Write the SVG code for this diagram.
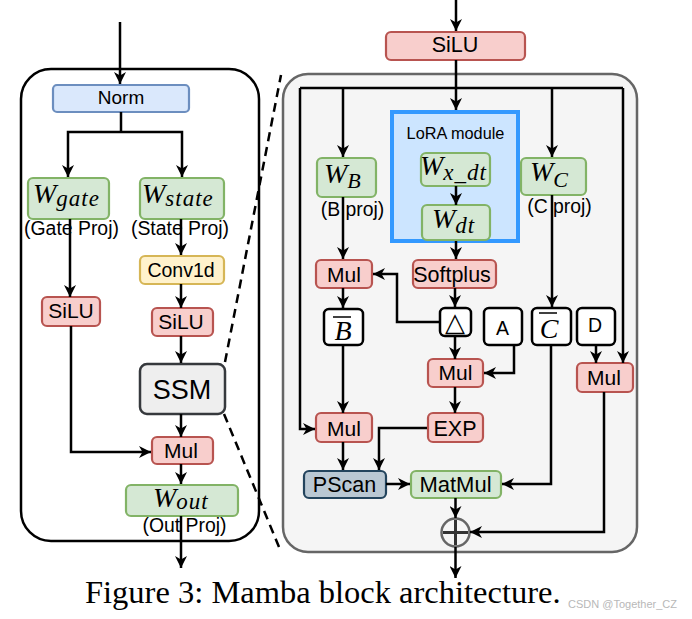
<svg xmlns="http://www.w3.org/2000/svg" width="692" height="619" viewBox="0 0 692 619">
<defs>
<marker id="ah" viewBox="0 0 12 12" refX="12" refY="6" markerWidth="12" markerHeight="12" markerUnits="userSpaceOnUse" orient="auto">
<path d="M0,0 L12,6 L0,12 L3.5,6 z" fill="#000"/>
</marker>
<style>
.c{fill:none;stroke:#000;stroke-width:2.5;marker-end:url(#ah)}
.cn{fill:none;stroke:#000;stroke-width:2.5}
.dash{fill:none;stroke:#000;stroke-width:2.5;stroke-dasharray:9 6}
.red{fill:#f8cecc;stroke:#b85450;stroke-width:2.2}
.grn{fill:#d5e8d4;stroke:#82b366;stroke-width:2.2}
.blu{fill:#dae8fc;stroke:#6c8ebf;stroke-width:2.2}
.yel{fill:#fff2cc;stroke:#d6b656;stroke-width:2.2}
.gry{fill:#eeeeee;stroke:#36393d;stroke-width:2.5}
.psc{fill:#bac8d3;stroke:#23445d;stroke-width:2.2}
.wht{fill:#ffffff;stroke:#000;stroke-width:2.5}
.t{font-family:"Liberation Sans",Arial,sans-serif;fill:#000;text-anchor:middle}
.mw{font-family:"Liberation Serif","Times New Roman",serif;font-style:italic;font-size:28px;fill:#000}
.ms{font-size:23px;letter-spacing:1px}
</style>
</defs>

<g id="left-panel"><rect x="21" y="69" width="238" height="472" rx="30" fill="#fff" stroke="#000" stroke-width="2.5"/></g>
<g id="right-panel"><rect x="283" y="74" width="354" height="478" rx="25" fill="#f5f5f5" stroke="#666" stroke-width="2.5"/></g>

<g id="norm"><rect class="blu" x="53" y="85" width="136" height="27" rx="4"/><text class="t" x="121" y="104" font-size="19">Norm</text></g>
<g id="w-gate"><rect class="grn" x="28" y="178" width="81" height="41" rx="5"/><text class="mw" x="33" y="203">W<tspan class="ms" dy="3">gate</tspan></text><text class="t" x="71.5" y="235" font-size="19.4">(Gate Proj)</text></g>
<g id="w-state"><rect class="grn" x="140" y="178" width="84" height="41" rx="5"/><text class="mw" x="142" y="203">W<tspan class="ms" dy="3">state</tspan></text><text class="t" x="180" y="235" font-size="19.4">(State Proj)</text></g>
<g id="conv1d"><rect class="yel" x="140" y="256" width="84" height="28" rx="5"/><text class="t" x="181" y="277" font-size="19.5">Conv1d</text></g>
<g id="silu-gate"><rect class="red" x="42" y="297" width="58" height="29" rx="5"/><text class="t" x="71" y="318" font-size="21">SiLU</text></g>
<g id="silu-state"><rect class="red" x="152" y="308" width="61" height="28" rx="5"/><text class="t" x="181" y="329" font-size="21">SiLU</text></g>
<g id="ssm"><rect class="gry" x="140" y="364" width="85" height="50" rx="7"/><text class="t" x="182" y="399" font-size="27">SSM</text></g>
<g id="mul-out"><rect class="red" x="152" y="437" width="61" height="27" rx="5"/><text class="t" x="181" y="458" font-size="21">Mul</text></g>
<g id="w-out"><rect class="grn" x="126" y="485" width="112" height="31" rx="5"/><text class="mw" x="153" y="506.5">W<tspan class="ms" dy="2.5">out</tspan></text><text class="t" x="184.5" y="532" font-size="19.4">(Out Proj)</text></g>

<g id="silu-top"><rect class="red" x="386" y="32" width="139" height="28" rx="5"/><text class="t" x="455" y="52" font-size="21.5">SiLU</text></g>
<g id="lora"><rect x="392" y="112" width="126" height="129" fill="#cce5ff" stroke="#3399ff" stroke-width="4"/><text class="t" x="455.5" y="139" font-size="16.3">LoRA module</text></g>
<g id="w-x-dt"><rect class="grn" x="421" y="153" width="69" height="33" rx="5"/><text class="mw" x="420" y="175">W<tspan class="ms" dy="5">x_dt</tspan></text></g>
<g id="w-dt"><rect class="grn" x="422" y="205" width="68" height="35" rx="5"/><text class="mw" x="432" y="228">W<tspan class="ms" dy="5">dt</tspan></text></g>
<g id="w-b"><rect class="grn" x="317" y="158" width="59" height="39" rx="5"/><text class="mw" x="324" y="183" font-size="27">W<tspan font-size="22" dy="5">B</tspan></text><text class="t" x="352.5" y="216" font-size="19.4">(B proj)</text></g>
<g id="w-c"><rect class="grn" x="521" y="158" width="65" height="37" rx="5"/><text class="mw" x="530" y="181" font-size="26">W<tspan font-size="22" dy="6">C</tspan></text><text class="t" x="559.5" y="213" font-size="19.4">(C proj)</text></g>
<g id="mul-b"><rect class="red" x="316" y="260" width="56" height="28" rx="5"/><text class="t" x="344" y="281.5" font-size="21">Mul</text></g>
<g id="softplus"><rect class="red" x="413" y="260" width="83" height="28" rx="5"/><text class="t" x="452" y="281.5" font-size="21.5">Softplus</text></g>
<g id="b-bar"><rect class="wht" x="324" y="309" width="39" height="36" rx="5"/><text class="mw" x="343" y="340" font-size="23" text-anchor="middle">B</text><line x1="333" y1="317" x2="351" y2="317" stroke="#000" stroke-width="1.5"/></g>
<g id="delta"><rect class="wht" x="440" y="308" width="31" height="28" rx="5"/><text x="455" y="331" font-family="DejaVu Sans,sans-serif" font-size="26" text-anchor="middle">△</text></g>
<g id="a"><rect class="wht" x="484" y="308" width="38" height="37" rx="5"/><text class="t" x="502.5" y="335" font-size="19.5">A</text></g>
<g id="c-bar"><rect class="wht" x="532" y="308" width="39" height="37" rx="5"/><text class="mw" x="549" y="338" font-size="23" text-anchor="middle">C</text><line x1="539" y1="313" x2="557" y2="313" stroke="#000" stroke-width="1.5"/></g>
<g id="d"><rect class="wht" x="577" y="308" width="38" height="37" rx="5"/><text class="t" x="595" y="332" font-size="19.5">D</text></g>
<g id="mul-dt"><rect class="red" x="428" y="359" width="55" height="28" rx="5"/><text class="t" x="455.5" y="380" font-size="21">Mul</text></g>
<g id="mul-d"><rect class="red" x="577" y="363" width="56" height="29" rx="5"/><text class="t" x="604" y="385" font-size="21">Mul</text></g>
<g id="mul-bx"><rect class="red" x="316" y="413" width="56" height="29" rx="5"/><text class="t" x="344" y="435.5" font-size="21">Mul</text></g>
<g id="exp"><rect class="red" x="428" y="413" width="55" height="29" rx="5"/><text class="t" x="455" y="435.5" font-size="21.5">EXP</text></g>
<g id="pscan"><rect class="psc" x="304" y="471" width="82" height="27" rx="5"/><text class="t" x="344.5" y="492" font-size="21.5">PScan</text></g>
<g id="matmul"><rect class="grn" x="411" y="471" width="90" height="27" rx="5"/><text class="t" x="455.5" y="492" font-size="22">MatMul</text></g>
<g id="plus"><circle cx="455.5" cy="532.5" r="14" fill="#f5f5f5" stroke="#666" stroke-width="2.5"/><line x1="443" y1="532.5" x2="468" y2="532.5" stroke="#333" stroke-width="3"/><line x1="455.5" y1="520" x2="455.5" y2="545" stroke="#333" stroke-width="3"/></g>

<g id="connectors">
<path class="c" d="M120,22 V84"/>
<path class="cn" d="M121,112 V132"/>
<path class="c" d="M121,132 H68 V177"/>
<path class="c" d="M121,132 H182 V177"/>
<path class="c" d="M70,219 V297"/>
<path class="c" d="M181,219 V255"/>
<path class="c" d="M181,284 V308"/>
<path class="c" d="M181,336 V363"/>
<path class="c" d="M181,414 V437"/>
<path class="c" d="M71,326 V452 H151"/>
<path class="c" d="M181,464 V484"/>
<path class="c" d="M181,516 V568"/>

<path class="c" d="M456,0 V31"/>
<path class="c" d="M456,60 V110"/>
<path class="cn" d="M300,88 H623"/>
<path class="c" d="M300,88 V429 H315"/>
<path class="c" d="M343,88 V157"/>
<path class="c" d="M552,88 V157"/>
<path class="c" d="M623,88 V363"/>
<path class="c" d="M456,186 V205"/>
<path class="c" d="M456,241 V259"/>
<path class="c" d="M343,197 V259"/>
<path class="c" d="M455,288 V307"/>
<path class="c" d="M343,288 V308"/>
<path class="c" d="M439,322 H397 V274 H373"/>
<path class="c" d="M343,345 V413"/>
<path class="c" d="M455,336 V359"/>
<path class="c" d="M514,345 V373 H484"/>
<path class="c" d="M455,387 V413"/>
<path class="c" d="M427,428 H379 V470"/>
<path class="c" d="M343,442 V470"/>
<path class="c" d="M386,484 H410"/>
<path class="c" d="M552,195 V307"/>
<path class="c" d="M551,345 V484 H502"/>
<path class="c" d="M596,345 V363"/>
<path class="c" d="M604,392 V532 H470"/>
<path class="c" d="M455.5,498 V518"/>
<path class="c" d="M455.5,547 V578"/>
<path class="dash" d="M225,362 L281,75"/>
<path class="dash" d="M224,414 L279,547"/>
</g>

<g id="caption">
<text x="85" y="603" font-family="Liberation Serif,'Times New Roman',serif" font-size="32.5" fill="#000">Figure 3: Mamba block architecture.</text>
<text x="568" y="608" font-family="Liberation Sans,Arial,sans-serif" font-size="11" fill="#b8b8b8">CSDN @Together_CZ</text>
</g>
</svg>
